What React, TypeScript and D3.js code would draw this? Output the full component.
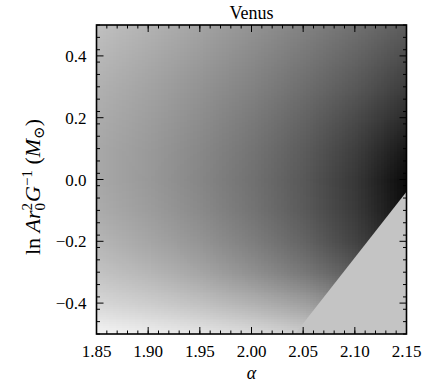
import React, { useMemo } from "react";
import * as d3 from "d3";

// grid nodes of the map
const alphaNodes = [1.85, 1.9, 1.95, 2.0, 2.05, 2.1, 2.15];
const lnANodes = [0.5, 0.4, 0.3, 0.2, 0.1, 0.0, -0.1, -0.2, -0.3, -0.4, -0.5];
// brightness (0 = black, 255 = white), rows follow lnANodes
const row050 = [192, 178, 163, 147, 130, 112, 92];
const row040 = [184, 170, 155, 138, 120, 100, 76];
const row030 = [177, 163, 147, 130, 110, 88, 60];
const row020 = [172, 158, 141, 122, 100, 74, 42];
const row010 = [168, 154, 136, 116, 92, 62, 22];
const row000 = [168, 153, 134, 113, 88, 55, 8];
const rowm010 = [172, 157, 138, 116, 90, 58, 12];
const rowm020 = [182, 166, 148, 126, 100, 66, 28];
const rowm030 = [195, 182, 165, 144, 120, 90, 50];
const rowm040 = [215, 205, 193, 178, 160, 132, 98];
const rowm050 = [245, 238, 230, 220, 206, 188, 160];
const gridRows = [row050, row040, row030, row020, row010, row000, rowm010, rowm020, rowm030, rowm040, rowm050];

// excluded region boundary
const maskAlpha = [2.042, 2.15, 2.15];
const maskLnA = [-0.5, -0.04, -0.5];
const maskGray = 196;

const xTicks = [1.85, 1.9, 1.95, 2.0, 2.05, 2.1, 2.15];
const yTicks = [-0.4, -0.2, 0.0, 0.2, 0.4];

const W = 434, H = 387;
const L = 96.5, R = 406.5, T = 25, B = 334;
const FONT = "Liberation Serif, DejaVu Serif, serif";

export default function App() {
  const x = d3.scaleLinear().domain([1.85, 2.15]).range([L, R]);
  const y = d3.scaleLinear().domain([-0.5, 0.5]).range([B, T]);
  const gray = d3.scaleLinear<string>().domain([0, 255]).range(["#000000", "#ffffff"]);

  const url = useMemo(() => {
    const c = document.createElement("canvas");
    c.width = alphaNodes.length;
    c.height = lnANodes.length;
    const ctx = c.getContext("2d")!;
    gridRows.forEach((row, j) => {
      row.forEach((v, i) => {
        ctx.fillStyle = gray(v);
        ctx.fillRect(i, j, 1, 1);
      });
    });
    return c.toDataURL();
  }, []);

  const dx = 0.05, dy = 0.1;
  const imgX = x(alphaNodes[0] - dx / 2);
  const imgW = x(alphaNodes[alphaNodes.length - 1] + dx / 2) - imgX;
  const imgY = y(lnANodes[0] + dy / 2);
  const imgH = y(lnANodes[lnANodes.length - 1] - dy / 2) - imgY;

  const xMinor = d3.range(0, 31).map((i) => 1.85 + i * 0.01);
  const yMinor = d3.range(0, 26).map((i) => -0.5 + i * 0.04);

  const maskPts = maskAlpha.map((a, i) => `${x(a)},${y(maskLnA[i])}`).join(" ");

  const fmt = d3.format(".2f");
  const fmtY = (v: number) => (v < 0 ? "\u2212" + d3.format(".1f")(-v) : d3.format(".1f")(Math.abs(v)));

  return (
    <svg width={W} height={H} style={{ position: "absolute", left: 0, top: 0, fontFamily: FONT }}>
      <defs>
        <clipPath id="plotClip">
          <rect x={L} y={T} width={R - L} height={B - T} />
        </clipPath>
      </defs>
      <rect x={0} y={0} width={W} height={H} fill="#fff" />
      <g clipPath="url(#plotClip)">
        <image href={url} x={imgX} y={imgY} width={imgW} height={imgH} preserveAspectRatio="none" style={{ imageRendering: "auto" }} />
        <polygon points={maskPts} fill={gray(maskGray)} />
      </g>
      <g stroke="#000" strokeWidth={1}>
        {xMinor.map((v, i) => (
          <g key={"xm" + i}>
            <line x1={x(v)} x2={x(v)} y1={B} y2={B - 3.5} />
            <line x1={x(v)} x2={x(v)} y1={T} y2={T + 3.5} />
          </g>
        ))}
        {xTicks.map((v, i) => (
          <g key={"xM" + i}>
            <line x1={x(v)} x2={x(v)} y1={B} y2={B - 7} />
            <line x1={x(v)} x2={x(v)} y1={T} y2={T + 7} />
          </g>
        ))}
        {yMinor.map((v, i) => (
          <g key={"ym" + i}>
            <line x1={L} x2={L + 3.5} y1={y(v)} y2={y(v)} />
            <line x1={R} x2={R - 3.5} y1={y(v)} y2={y(v)} />
          </g>
        ))}
        {yTicks.map((v, i) => (
          <g key={"yM" + i}>
            <line x1={L} x2={L + 7} y1={y(v)} y2={y(v)} />
            <line x1={R} x2={R - 7} y1={y(v)} y2={y(v)} />
          </g>
        ))}
      </g>
      <rect x={L} y={T} width={R - L} height={B - T} fill="none" stroke="#000" strokeWidth={1.6} />
      <g fontSize={17} fill="#000">
        {xTicks.map((v, i) => (
          <text key={"xl" + i} x={x(v)} y={B + 23} textAnchor="middle">{fmt(v)}</text>
        ))}
        {yTicks.map((v, i) => (
          <text key={"yl" + i} x={L - 10} y={y(v) + 6} textAnchor="end">{fmtY(v)}</text>
        ))}
      </g>
      <text x={(L + R) / 2} y={19} textAnchor="middle" fontSize={18}>Venus</text>
      <text x={(L + R) / 2} y={379} textAnchor="middle" fontSize={18} fontStyle="italic">α</text>
      <text transform={`translate(40, 187) rotate(-90)`} textAnchor="middle" fontSize={22}>
        <tspan>ln </tspan>
        <tspan fontStyle="italic">Ar</tspan>
        <tspan fontSize={15} dy={5}>0</tspan>
        <tspan fontSize={15} dx={-7.5} dy={-13}>2</tspan>
        <tspan fontStyle="italic" dy={8} dx={1}>G</tspan>
        <tspan fontSize={15} dy={-8}>−1</tspan>
        <tspan dy={8}> (</tspan>
        <tspan fontStyle="italic">M</tspan>
        <tspan fontSize={15} dy={4}>⊙</tspan>
        <tspan dy={-4}>)</tspan>
      </text>
    </svg>
  );
}
